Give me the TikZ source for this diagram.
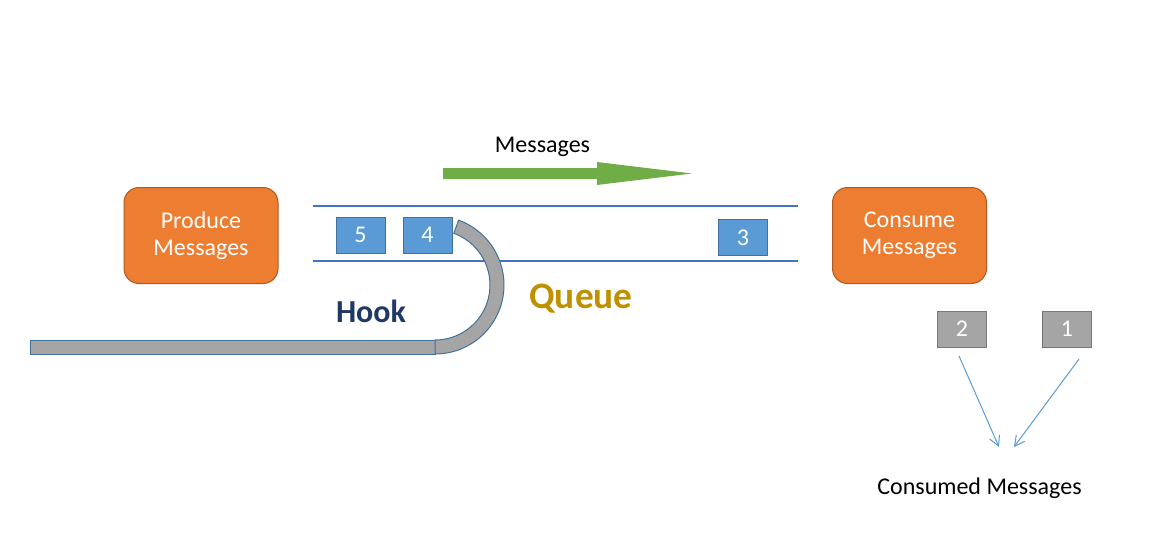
\documentclass[tikz,border=0pt]{standalone}
\usepackage{fontspec}
\setmainfont{Carlito}
\usetikzlibrary{arrows.meta}
\definecolor{orangefill}{HTML}{ED7D31}
\definecolor{orangeedge}{HTML}{AE5A21}
\definecolor{bluefill}{HTML}{5B9BD5}
\definecolor{blueedge}{HTML}{41719C}
\definecolor{grayfill}{HTML}{A5A5A5}
\definecolor{grayedge}{HTML}{787878}
\definecolor{qline}{HTML}{4472C4}
\definecolor{hookblue}{HTML}{1F3864}
\definecolor{queuegold}{HTML}{BF9000}
\definecolor{arrowgreen}{HTML}{70AD47}
\definecolor{thinblue}{HTML}{5B9BD5}
\begin{document}
\begin{tikzpicture}[x=0.75pt,y=-0.75pt,
  procbox/.style={draw=orangeedge, fill=orangefill, rounded corners=11.25pt,
    minimum width=115.5pt, minimum height=72pt, text=white, align=center,
    font=\fontsize{18}{20.25}\selectfont, line width=0.75pt, inner sep=0pt},
  msgbox/.style={draw=blueedge, fill=bluefill, minimum width=36.75pt,
    minimum height=27pt, text=white, font=\fontsize{18}{20}\selectfont,
    inner sep=0pt, line width=0.75pt},
  donebox/.style={msgbox, draw=grayedge, fill=grayfill},
  queueline/.style={draw=qline, line width=1.5pt},
  hookshape/.style={draw=blueedge, fill=grayfill, line width=0.75pt},
  plainlabel/.style={font=\fontsize{18}{20}\selectfont, anchor=base, inner sep=0pt},
  consumearrow/.style={draw=thinblue, line width=0.75pt, -{Straight Barb[length=7.5pt,width=8pt]}}
]
\useasboundingbox (0,0) rectangle (1157,553);

% producer / consumer
\node[procbox] (produce) at (201,235.5) {Produce\\Messages};
\node[procbox] (consume) at (909.5,235.5) {Consume\\Messages};

% queue walls
\coordinate (qtl) at (313,206);
\coordinate (qtr) at (798,206);
\coordinate (qbl) at (313,261);
\coordinate (qbr) at (798,261);
\draw[queueline] (qtl) -- (qtr);
\draw[queueline] (qbl) -- (qbr);

% messages in queue
\node[msgbox] (m5) at (360.5,235) {5};
\node[msgbox] (m4) at (427.5,235) {4};
\node[msgbox] (m3) at (743,237.5) {3};

% consumed messages
\node[donebox] (m2) at (962,329) {2};
\node[donebox] (m1) at (1067,329) {1};

% hook
\draw[hookshape] (30,340) rectangle (435,354);
\draw[hookshape] (435,354) arc[start angle=90, end angle=-70, radius=69]
  -- (453.81,233.32) arc[start angle=-70, end angle=90, radius=55] -- cycle;

% green direction arrow
\fill[arrowgreen] (443,168) -- (597,168) -- (597,162) -- (692,173.5)
  -- (597,185) -- (597,179) -- (443,179) -- cycle;

% labels
\node[plainlabel] (msglabel) at (542.5,152) {Messages};
\node[anchor=base, inner sep=0pt, text=hookblue, font=\fontsize{24}{28}\selectfont\bfseries] (hooklabel) at (371,322) {Hook};
\node[anchor=base, inner sep=0pt, text=queuegold, font=\fontsize{28}{32}\selectfont\bfseries] (queuelabel) at (581,308) {Queue};
\node[plainlabel] (consumed) at (979.5,494.3) {Consumed Messages};

% arrows to consumed
\coordinate (a2s) at (959,356);
\coordinate (a2e) at (999,447);
\coordinate (a1s) at (1079,359);
\coordinate (a1e) at (1014,447);
\draw[consumearrow] (a2s) -- (a2e);
\draw[consumearrow] (a1s) -- (a1e);
\end{tikzpicture}
\end{document}
